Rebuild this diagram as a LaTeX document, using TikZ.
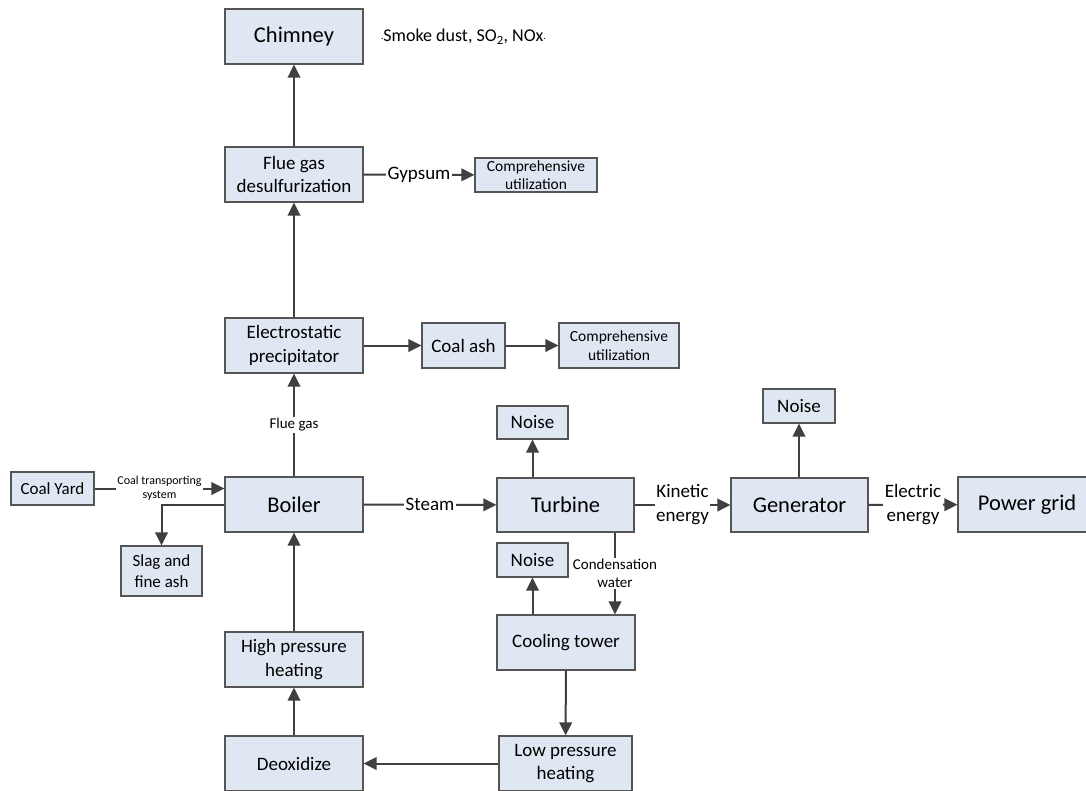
\documentclass[tikz,border=0pt]{standalone}
\usepackage{fontspec}
\setmainfont{Carlito}
\usetikzlibrary{arrows.meta}
\definecolor{boxfill}{HTML}{DFE8F2}
\definecolor{boxline}{HTML}{555555}
\definecolor{arrowc}{HTML}{404040}
\newcommand{\fs}[2]{\fontsize{#1}{#2}\selectfont}
\begin{document}
\begin{tikzpicture}[x=1pt,y=-1pt,
  box/.style={draw=boxline, line width=1.1pt, fill=boxfill, align=center,
    inner sep=0pt, text=black},
  big/.style={box, font=\fs{22.5}{27}},
  mid/.style={box, font=\fs{19}{23.5}},
  small/.style={box, font=\fs{15.5}{18.5}},
  arr/.style={draw=arrowc, line width=2pt, -{Triangle[length=13pt,width=12.5pt]}},
  lbl/.style={fill=white, inner sep=1.5pt, align=center, text=black},
  lblmid/.style={lbl, font=\fs{19}{24}},
  lblsmall/.style={lbl, font=\fs{15}{18}},
  lbltiny/.style={lbl, font=\fs{12}{13.5}, inner sep=1pt}
]
\clip (0,0) rectangle (1086,790);
\fill[white] (0,0) rectangle (1086,790);

% left column: boiler and flue gas treatment
\node[big, minimum width=138, minimum height=55] (chimney) at (294,36.5) {Chimney};
\node[mid, minimum width=138, minimum height=55] (fgd) at (294,174.5) {Flue gas\\desulfurization};
\node[small, minimum width=122, minimum height=34] (cu1) at (536,175) {Comprehensive\\utilization};
\node[mid, minimum width=138, minimum height=55] (esp) at (294,345.5) {Electrostatic\\precipitator};
\node[mid, minimum width=83, minimum height=45] (coalash) at (463.5,345.5) {Coal ash};
\node[small, minimum width=120, minimum height=45] (cu2) at (619,345.5) {Comprehensive\\utilization};
\node[big, minimum width=138, minimum height=55] (boiler) at (294,504.5) {Boiler};
\node[box, font=\fs{17}{21}, minimum width=83, minimum height=33] (coalyard) at (52.5,488.5) {Coal Yard};
\node[box, font=\fs{17}{21}, minimum width=81, minimum height=50] (slag) at (161.5,571) {Slag and\\fine ash};
\node[mid, minimum width=138, minimum height=55] (hph) at (294,659.5) {High pressure\\heating};
\node[mid, minimum width=138, minimum height=55] (deox) at (294,763.5) {Deoxidize};

% emissions note
\node[anchor=west, inner sep=0pt, font=\fs{18}{22}] (emis) at (381,37)
  {{\fs{9}{9}·}Smoke dust, SO\textsubscript{2}, NOx{\fs{9}{9}·}};

% turbine and generator
\node[big, minimum width=137, minimum height=54] (turbine) at (565.5,505) {Turbine};
\node[mid, minimum width=71, minimum height=33] (noise1) at (532.5,422.5) {Noise};
\node[mid, minimum width=71, minimum height=34] (noise2) at (532.5,560) {Noise};
\node[mid, minimum width=138, minimum height=55] (cooling) at (566,642.5) {Cooling tower};
\node[mid, minimum width=133, minimum height=55] (lph) at (565.5,763.5) {Low pressure\\heating};
\node[big, minimum width=137, minimum height=54] (generator) at (799.5,505) {Generator};
\node[mid, minimum width=72, minimum height=34] (noise3) at (799,406) {Noise};
\node[big, minimum width=138, minimum height=55] (grid) at (1027,504.5) {Power grid};

% flue gas path
\draw[arr] (fgd) -- (chimney);
\draw[arr] (esp) -- (fgd);
\draw[arr] (boiler) -- node[lblsmall] {Flue gas} (esp);
\draw[arr] (fgd) -- node[lblmid] {Gypsum} (cu1);
\draw[arr] (esp) -- (coalash);
\draw[arr] (coalash) -- (cu2);

% coal feed and slag
\draw[arr] (coalyard.east) -- node[lbltiny] {Coal transporting\\system} (coalyard.east -| boiler.west);
\draw[arr] (boiler.west) -| (slag.north);

% feed water loop
\draw[arr] (hph) -- (boiler);
\draw[arr] (deox) -- (hph);
\draw[arr] (lph) -- (deox);
\draw[arr] (cooling) -- (lph);

% steam and energy
\draw[arr] (boiler) -- node[lblmid] {Steam} (turbine);
\draw[arr] (noise1.south |- turbine.north) -- (noise1.south);
\draw[arr] (noise2.south |- cooling.north) -- (noise2.south);
\draw[arr] ([xshift=49.5pt]turbine.south) -- node[lblsmall] {Condensation\\water} ([xshift=49pt]cooling.north);
\draw[arr] (turbine) -- node[lblmid] {Kinetic\\energy} (generator);
\draw[arr] (generator.north -| noise3.south) -- (noise3.south);
\draw[arr] (generator) -- node[lblmid] {Electric\\energy} (grid);
\end{tikzpicture}
\end{document}
